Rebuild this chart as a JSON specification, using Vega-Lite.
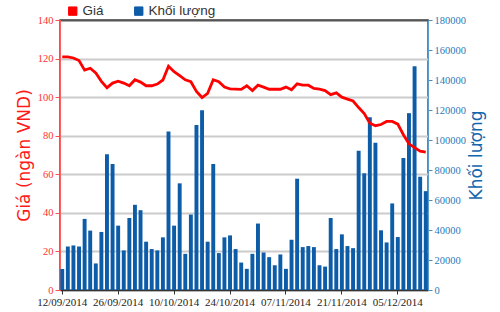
{
  "$schema": "https://vega.github.io/schema/vega-lite/v6.json",
  "width": 368,
  "height": 270,
  "autosize": "none",
  "padding": {"left": 60, "top": 20, "right": 72, "bottom": 22},
  "background": "white",
  "config": {
    "view": {"stroke": "#555555", "strokeWidth": 1.5},
    "axis": {"labelFont": "Liberation Sans Narrow", "titleFont": "DejaVu Sans", "titleFontWeight": "normal"}
  },
  "data": {
    "values": [
      {"date": "12/09/2014", "price": 120.9, "volume": 14000},
      {"date": "15/09/2014", "price": 120.9, "volume": 29000},
      {"date": "16/09/2014", "price": 120.3, "volume": 29700},
      {"date": "17/09/2014", "price": 119.0, "volume": 29000},
      {"date": "18/09/2014", "price": 114.0, "volume": 47400},
      {"date": "19/09/2014", "price": 115.0, "volume": 39600},
      {"date": "22/09/2014", "price": 112.5, "volume": 17700},
      {"date": "23/09/2014", "price": 108.2, "volume": 38700},
      {"date": "24/09/2014", "price": 104.9, "volume": 90500},
      {"date": "25/09/2014", "price": 107.3, "volume": 84000},
      {"date": "26/09/2014", "price": 108.3, "volume": 42900},
      {"date": "29/09/2014", "price": 107.3, "volume": 26400},
      {"date": "30/09/2014", "price": 105.9, "volume": 48000},
      {"date": "01/10/2014", "price": 109.0, "volume": 56800},
      {"date": "02/10/2014", "price": 107.8, "volume": 53200},
      {"date": "03/10/2014", "price": 105.9, "volume": 32200},
      {"date": "06/10/2014", "price": 105.9, "volume": 27300},
      {"date": "07/10/2014", "price": 106.8, "volume": 26400},
      {"date": "08/10/2014", "price": 108.9, "volume": 35100},
      {"date": "09/10/2014", "price": 116.0, "volume": 105700},
      {"date": "10/10/2014", "price": 113.2, "volume": 42900},
      {"date": "13/10/2014", "price": 111.1, "volume": 71100},
      {"date": "14/10/2014", "price": 109.0, "volume": 24100},
      {"date": "15/10/2014", "price": 108.0, "volume": 50300},
      {"date": "16/10/2014", "price": 103.0, "volume": 110000},
      {"date": "17/10/2014", "price": 99.8, "volume": 119800},
      {"date": "20/10/2014", "price": 102.0, "volume": 32200},
      {"date": "21/10/2014", "price": 109.0, "volume": 84000},
      {"date": "22/10/2014", "price": 108.0, "volume": 24600},
      {"date": "23/10/2014", "price": 105.2, "volume": 35100},
      {"date": "24/10/2014", "price": 104.3, "volume": 36400},
      {"date": "27/10/2014", "price": 104.2, "volume": 27300},
      {"date": "28/10/2014", "price": 104.0, "volume": 18300},
      {"date": "29/10/2014", "price": 105.9, "volume": 14100},
      {"date": "30/10/2014", "price": 103.4, "volume": 24100},
      {"date": "31/10/2014", "price": 106.2, "volume": 44300},
      {"date": "03/11/2014", "price": 105.2, "volume": 25000},
      {"date": "04/11/2014", "price": 104.1, "volume": 21900},
      {"date": "05/11/2014", "price": 104.1, "volume": 16500},
      {"date": "06/11/2014", "price": 104.1, "volume": 23700},
      {"date": "07/11/2014", "price": 105.2, "volume": 14100},
      {"date": "10/11/2014", "price": 103.8, "volume": 33500},
      {"date": "11/11/2014", "price": 106.9, "volume": 74200},
      {"date": "12/11/2014", "price": 106.2, "volume": 28600},
      {"date": "13/11/2014", "price": 106.2, "volume": 29300},
      {"date": "14/11/2014", "price": 104.5, "volume": 28600},
      {"date": "17/11/2014", "price": 104.1, "volume": 16500},
      {"date": "18/11/2014", "price": 103.4, "volume": 15600},
      {"date": "19/11/2014", "price": 101.3, "volume": 48000},
      {"date": "20/11/2014", "price": 102.2, "volume": 27300},
      {"date": "21/11/2014", "price": 100.0, "volume": 37100},
      {"date": "24/11/2014", "price": 99.0, "volume": 29300},
      {"date": "25/11/2014", "price": 98.0, "volume": 27900},
      {"date": "26/11/2014", "price": 94.6, "volume": 92800},
      {"date": "27/11/2014", "price": 91.5, "volume": 77800},
      {"date": "28/11/2014", "price": 86.5, "volume": 115200},
      {"date": "01/12/2014", "price": 85.2, "volume": 98200},
      {"date": "02/12/2014", "price": 85.8, "volume": 39800},
      {"date": "03/12/2014", "price": 87.4, "volume": 31700},
      {"date": "04/12/2014", "price": 87.4, "volume": 57700},
      {"date": "05/12/2014", "price": 86.0, "volume": 35300},
      {"date": "08/12/2014", "price": 80.5, "volume": 88000},
      {"date": "09/12/2014", "price": 75.8, "volume": 117900},
      {"date": "10/12/2014", "price": 73.8, "volume": 149100},
      {"date": "11/12/2014", "price": 72.0, "volume": 75500},
      {"date": "12/12/2014", "price": 71.5, "volume": 65900}
    ]
  },
  "encoding": {
    "x": {
      "field": "date",
      "type": "ordinal",
      "sort": null,
      "scale": {"paddingInner": 0.3, "paddingOuter": 0.05},
      "axis": {
        "values": ["12/09/2014", "26/09/2014", "10/10/2014", "24/10/2014", "07/11/2014", "21/11/2014", "05/12/2014"],
        "labelAngle": 0,
        "title": null,
        "tickSize": 4,
        "labelPadding": 2,
        "labelFontSize": 11,
        "labelColor": "#222222",
        "domainColor": "#333333",
        "tickColor": "#333333",
        "domainWidth": 1.5,
        "grid": false
      }
    }
  },
  "layer": [
    {
      "mark": {"type": "bar"},
      "encoding": {
        "y": {
          "field": "volume",
          "type": "quantitative",
          "scale": {"domain": [0, 180000], "nice": false},
          "axis": {
            "orient": "right",
            "values": [0, 20000, 40000, 60000, 80000, 100000, 120000, 140000, 160000, 180000],
            "format": "d",
            "grid": false,
            "labelFontSize": 10.5,
            "labelColor": "#2a7ab8",
            "tickColor": "#4a8fc4",
            "domainColor": "#5a9ccc",
            "tickSize": 4,
            "labelPadding": 2,
            "title": "Khối lượng",
            "titleColor": "#1466ad",
            "titleFontSize": 17,
            "titleAngle": 270,
            "titlePadding": 20
          }
        },
        "color": {
          "datum": "Khối lượng",
          "type": "nominal",
          "scale": {"domain": ["Giá", "Khối lượng"], "range": ["#ff0000", "#0d5ca8"]},
          "legend": {
            "title": null,
            "orient": "none",
            "direction": "horizontal",
            "legendX": 6,
            "legendY": -16,
            "symbolType": "square",
            "symbolSize": 70,
            "symbolStrokeColor": "#333333",
            "symbolStrokeWidth": 1,
            "labelFont": "Liberation Sans",
            "labelFontSize": 13.5,
            "labelColor": "#333333",
            "labelOffset": 3,
            "columnPadding": 28,
            "padding": 0
          }
        }
      }
    },
    {
      "mark": {"type": "line", "strokeWidth": 2.8, "interpolate": "linear"},
      "encoding": {
        "y": {
          "field": "price",
          "type": "quantitative",
          "scale": {"domain": [0, 140], "nice": false},
          "axis": {
            "orient": "left",
            "values": [0, 20, 40, 60, 80, 100, 120, 140],
            "grid": true,
            "gridColor": {"condition": {"test": "datum.value === 140", "value": "#555555"}, "value": "#cccccc"},
            "gridWidth": 2,
            "labelFontSize": 10.5,
            "labelColor": "#ff3030",
            "tickColor": "#ff5050",
            "domainColor": "#ff6060",
            "tickSize": 5,
            "labelPadding": 2,
            "title": "Giá (ngàn VND)",
            "titleColor": "#ff1a1a",
            "titleFontSize": 17,
            "titlePadding": 4
          }
        },
        "color": {"datum": "Giá", "type": "nominal"}
      }
    }
  ],
  "resolve": {"scale": {"y": "independent"}, "axis": {"y": "independent"}}
}
